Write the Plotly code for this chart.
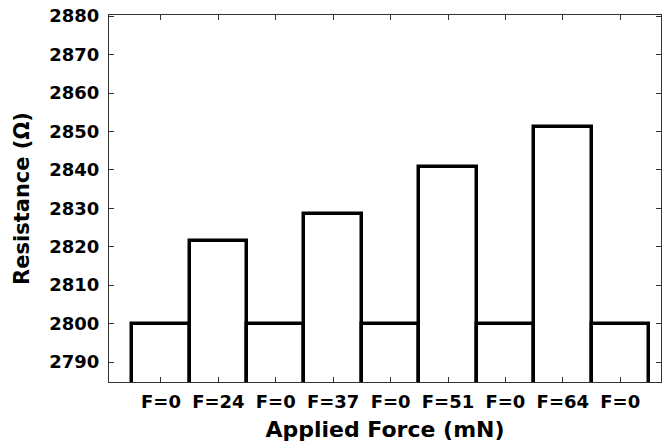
import plotly.graph_objects as go

# Applied force steps (mN) and measured resistance (ohm)
force_labels = ["F=0", "F=24", "F=0", "F=37", "F=0", "F=51", "F=0", "F=64", "F=0"]
resistance = [2800, 2821.5, 2800, 2828.4, 2800, 2840.8, 2800, 2851.2, 2800]
y_ticks = [2790, 2800, 2810, 2820, 2830, 2840, 2850, 2860, 2870, 2880]

positions = list(range(len(force_labels)))

FONT = "DejaVu Sans"
AXIS_COLOR = "#333333"

fig = go.Figure(
    go.Bar(
        x=positions,
        y=resistance,
        marker=dict(color="white", line=dict(color="black", width=3.5)),
        width=1.0,
        hoverinfo="x+y",
    )
)

fig.update_layout(
    width=662,
    height=443,
    margin=dict(l=109, r=1, t=15, b=61),
    paper_bgcolor="white",
    plot_bgcolor="white",
    bargap=0,
    showlegend=False,
    font=dict(family=FONT, color="black"),
)

fig.update_xaxes(
    range=[-0.905, 8.71],
    tickvals=positions,
    ticktext=force_labels,
    ticks="inside",
    ticklen=5,
    tickwidth=1,
    tickcolor=AXIS_COLOR,
    showline=True,
    linecolor=AXIS_COLOR,
    linewidth=1,
    mirror="ticks",
    showgrid=False,
    zeroline=False,
    ticklabelstandoff=3,
    tickfont=dict(family=FONT, size=18, color="black", weight="bold"),
    title=dict(
        text="Applied Force (mN)",
        font=dict(family=FONT, size=22, color="black", weight="bold"),
        standoff=11,
    ),
)

fig.update_yaxes(
    range=[2784.8, 2880.3],
    tickvals=y_ticks,
    ticktext=[str(v) for v in y_ticks],
    ticks="inside",
    ticklen=5,
    tickwidth=1,
    tickcolor=AXIS_COLOR,
    showline=True,
    linecolor=AXIS_COLOR,
    linewidth=1,
    mirror="ticks",
    showgrid=False,
    zeroline=False,
    ticklabelstandoff=5,
    tickfont=dict(family=FONT, size=18, color="black", weight="bold"),
    title=dict(
        text="Resistance (Ω)",
        font=dict(family=FONT, size=21, color="black", weight="bold"),
        standoff=13,
    ),
)

fig.write_html("out.html")
